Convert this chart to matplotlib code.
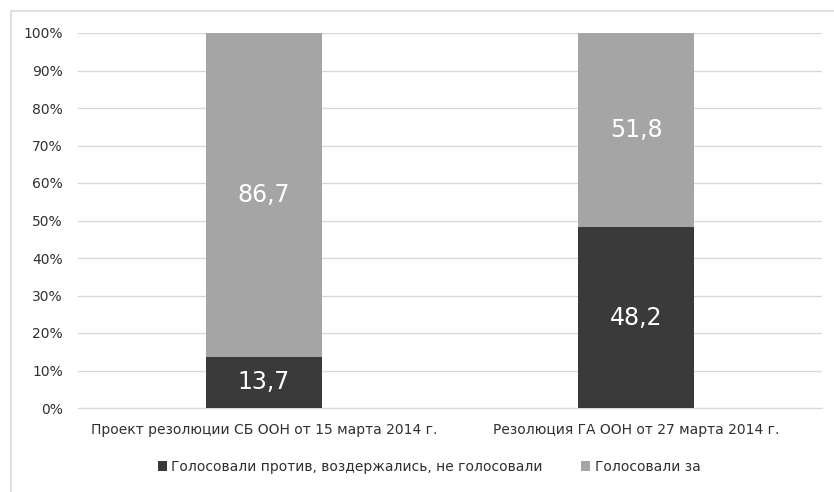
import matplotlib
matplotlib.use("Agg")
import matplotlib.pyplot as plt
from matplotlib.lines import Line2D
import numpy as np

plt.rcParams["font.family"] = ["Liberation Sans Narrow", "DejaVu Sans"]

categories = ["Проект резолюции СБ ООН от 15 марта 2014 г.",
              "Резолюция ГА ООН от 27 марта 2014 г."]
against = [13.7, 48.2]
voted_for = [86.7, 51.8]
series_names = ["Голосовали против, воздержались, не голосовали", "Голосовали за"]
yticks = [0, 10, 20, 30, 40, 50, 60, 70, 80, 90, 100]

dark = "#3a3a3a"
light = "#a5a5a5"

totals = np.array(against) + np.array(voted_for)
bottom_pct = np.array(against) / totals * 100
top_pct = np.array(voted_for) / totals * 100

fig = plt.figure(figsize=(8.34, 4.92), dpi=100)
ax = fig.add_axes([78 / 834, 1 - 408 / 492, 744 / 834, 375 / 492])

x = np.arange(len(categories))
width = 0.31
b1 = ax.bar(x, bottom_pct, width, color=dark, label=series_names[0], zorder=3)
b2 = ax.bar(x, top_pct, width, bottom=bottom_pct, color=light, label=series_names[1], zorder=3)

for i in range(len(categories)):
    ax.text(x[i], bottom_pct[i] / 2, f"{against[i]:.1f}".replace(".", ","),
            ha="center", va="center", color="white", fontsize=17, zorder=4)
    ax.text(x[i], bottom_pct[i] + top_pct[i] / 2, f"{voted_for[i]:.1f}".replace(".", ","),
            ha="center", va="center", color="white", fontsize=17, zorder=4)

ax.set_xlim(-0.5, 1.5)
ax.set_ylim(0, 100)
ax.set_yticks(yticks)
ax.set_yticklabels([f"{v}%" for v in yticks], fontsize=10, color="#303030")
ax.set_xticks(x)
ax.set_xticklabels(categories, fontsize=10, color="#303030")
ax.tick_params(length=0)
ax.tick_params(axis="y", pad=11)
ax.tick_params(axis="x", pad=11)
ax.grid(axis="y", color="#d9d9d9", linewidth=1, zorder=0)
for s in ["top", "right", "left"]:
    ax.spines[s].set_visible(False)
ax.spines["bottom"].set_color("#d9d9d9")

fig.legend(handles=[b1, b2], labels=series_names, loc="center",
           bbox_to_anchor=(429 / 834, 1 - 467 / 492), ncol=2, frameon=False,
           fontsize=10, handlelength=0.65, handleheight=0.65, handletextpad=0.3,
           columnspacing=2.8, labelcolor="#303030")

fig.add_artist(Line2D([11 / 834, 1], [1 - 11 / 492, 1 - 11 / 492],
                      transform=fig.transFigure, color="#d9d9d9", linewidth=1.2))
fig.add_artist(Line2D([11 / 834, 11 / 834], [0, 1 - 11 / 492],
                      transform=fig.transFigure, color="#d9d9d9", linewidth=1.2))

fig.savefig("out.png", dpi=100)
